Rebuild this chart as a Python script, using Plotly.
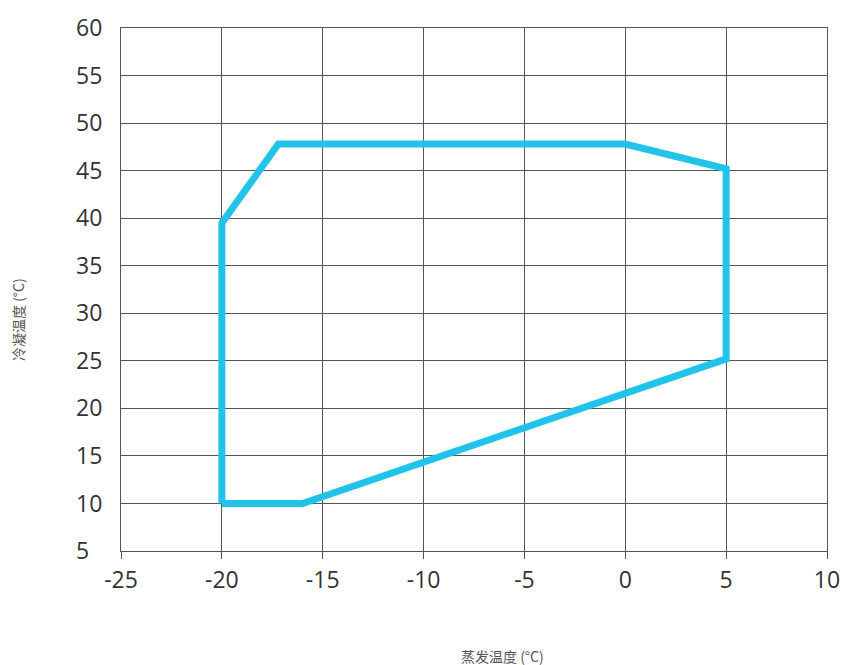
import plotly.graph_objects as go

# Operating envelope (evaporating temp, condensing temp)
evap_temp = [-20, -16, 5, 5, 0, -17.2, -20, -20]
cond_temp = [10, 10, 25.2, 45.2, 47.8, 47.8, 39.5, 10]

x_ticks = [-25, -20, -15, -10, -5, 0, 5, 10]
y_ticks = [5, 10, 15, 20, 25, 30, 35, 40, 45, 50, 55, 60]

x_title = "蒸发温度 (°C)"
y_title = "冷凝温度 (°C)"

fig = go.Figure()
fig.add_trace(go.Scatter(
    x=evap_temp, y=cond_temp, mode="lines",
    line=dict(color="#22C3EA", width=7),
    hoverinfo="skip", showlegend=False,
))

grid_col = "#555555"
tick_font = dict(family="Open Sans, Noto Sans, sans-serif", size=23, color="#333333")

# y labels are left-aligned in the reference: pad single digits with a figure space
y_text = [str(v) + ("\u2007" if len(str(v)) == 1 else "") for v in y_ticks]

fig.update_xaxes(
    range=[-25, 10], tickvals=x_ticks, ticktext=[str(v) for v in x_ticks],
    showgrid=True, gridcolor=grid_col, gridwidth=1,
    showline=True, linecolor=grid_col, linewidth=1, mirror=True,
    ticks="outside", ticklen=7, tickcolor=grid_col,
    tickfont=tick_font, zeroline=False, ticklabelstandoff=1, automargin=False,
)
fig.update_yaxes(
    range=[5, 60], tickvals=y_ticks, ticktext=y_text,
    showgrid=True, gridcolor=grid_col, gridwidth=1,
    showline=True, linecolor=grid_col, linewidth=1, mirror=True,
    ticks="", tickfont=tick_font, zeroline=False, ticklabelstandoff=13, automargin=False,
)

fig.add_annotation(text=x_title, xref="paper", yref="paper",
                   x=(502 - 121) / (827 - 121), y=-(656 - 551) / (551 - 28),
                   showarrow=False, xanchor="center", yanchor="middle",
                   font=dict(family="Noto Sans CJK SC, sans-serif", size=14, color="#555555"))
fig.add_annotation(text=y_title, xref="paper", yref="paper",
                   x=-(121 - 18) / (827 - 121), y=(551 - 320) / (551 - 28),
                   showarrow=False, xanchor="center", yanchor="middle", textangle=-90,
                   font=dict(family="Noto Sans CJK SC, sans-serif", size=14, color="#555555"))

fig.update_layout(
    width=841, height=665,
    margin=dict(l=121, r=14, t=28, b=114),
    plot_bgcolor="white", paper_bgcolor="white",
)

fig.write_html("out.html", config={"displayModeBar": False},
               post_script="document.body.style.margin='0';document.body.style.overflow='hidden';")
